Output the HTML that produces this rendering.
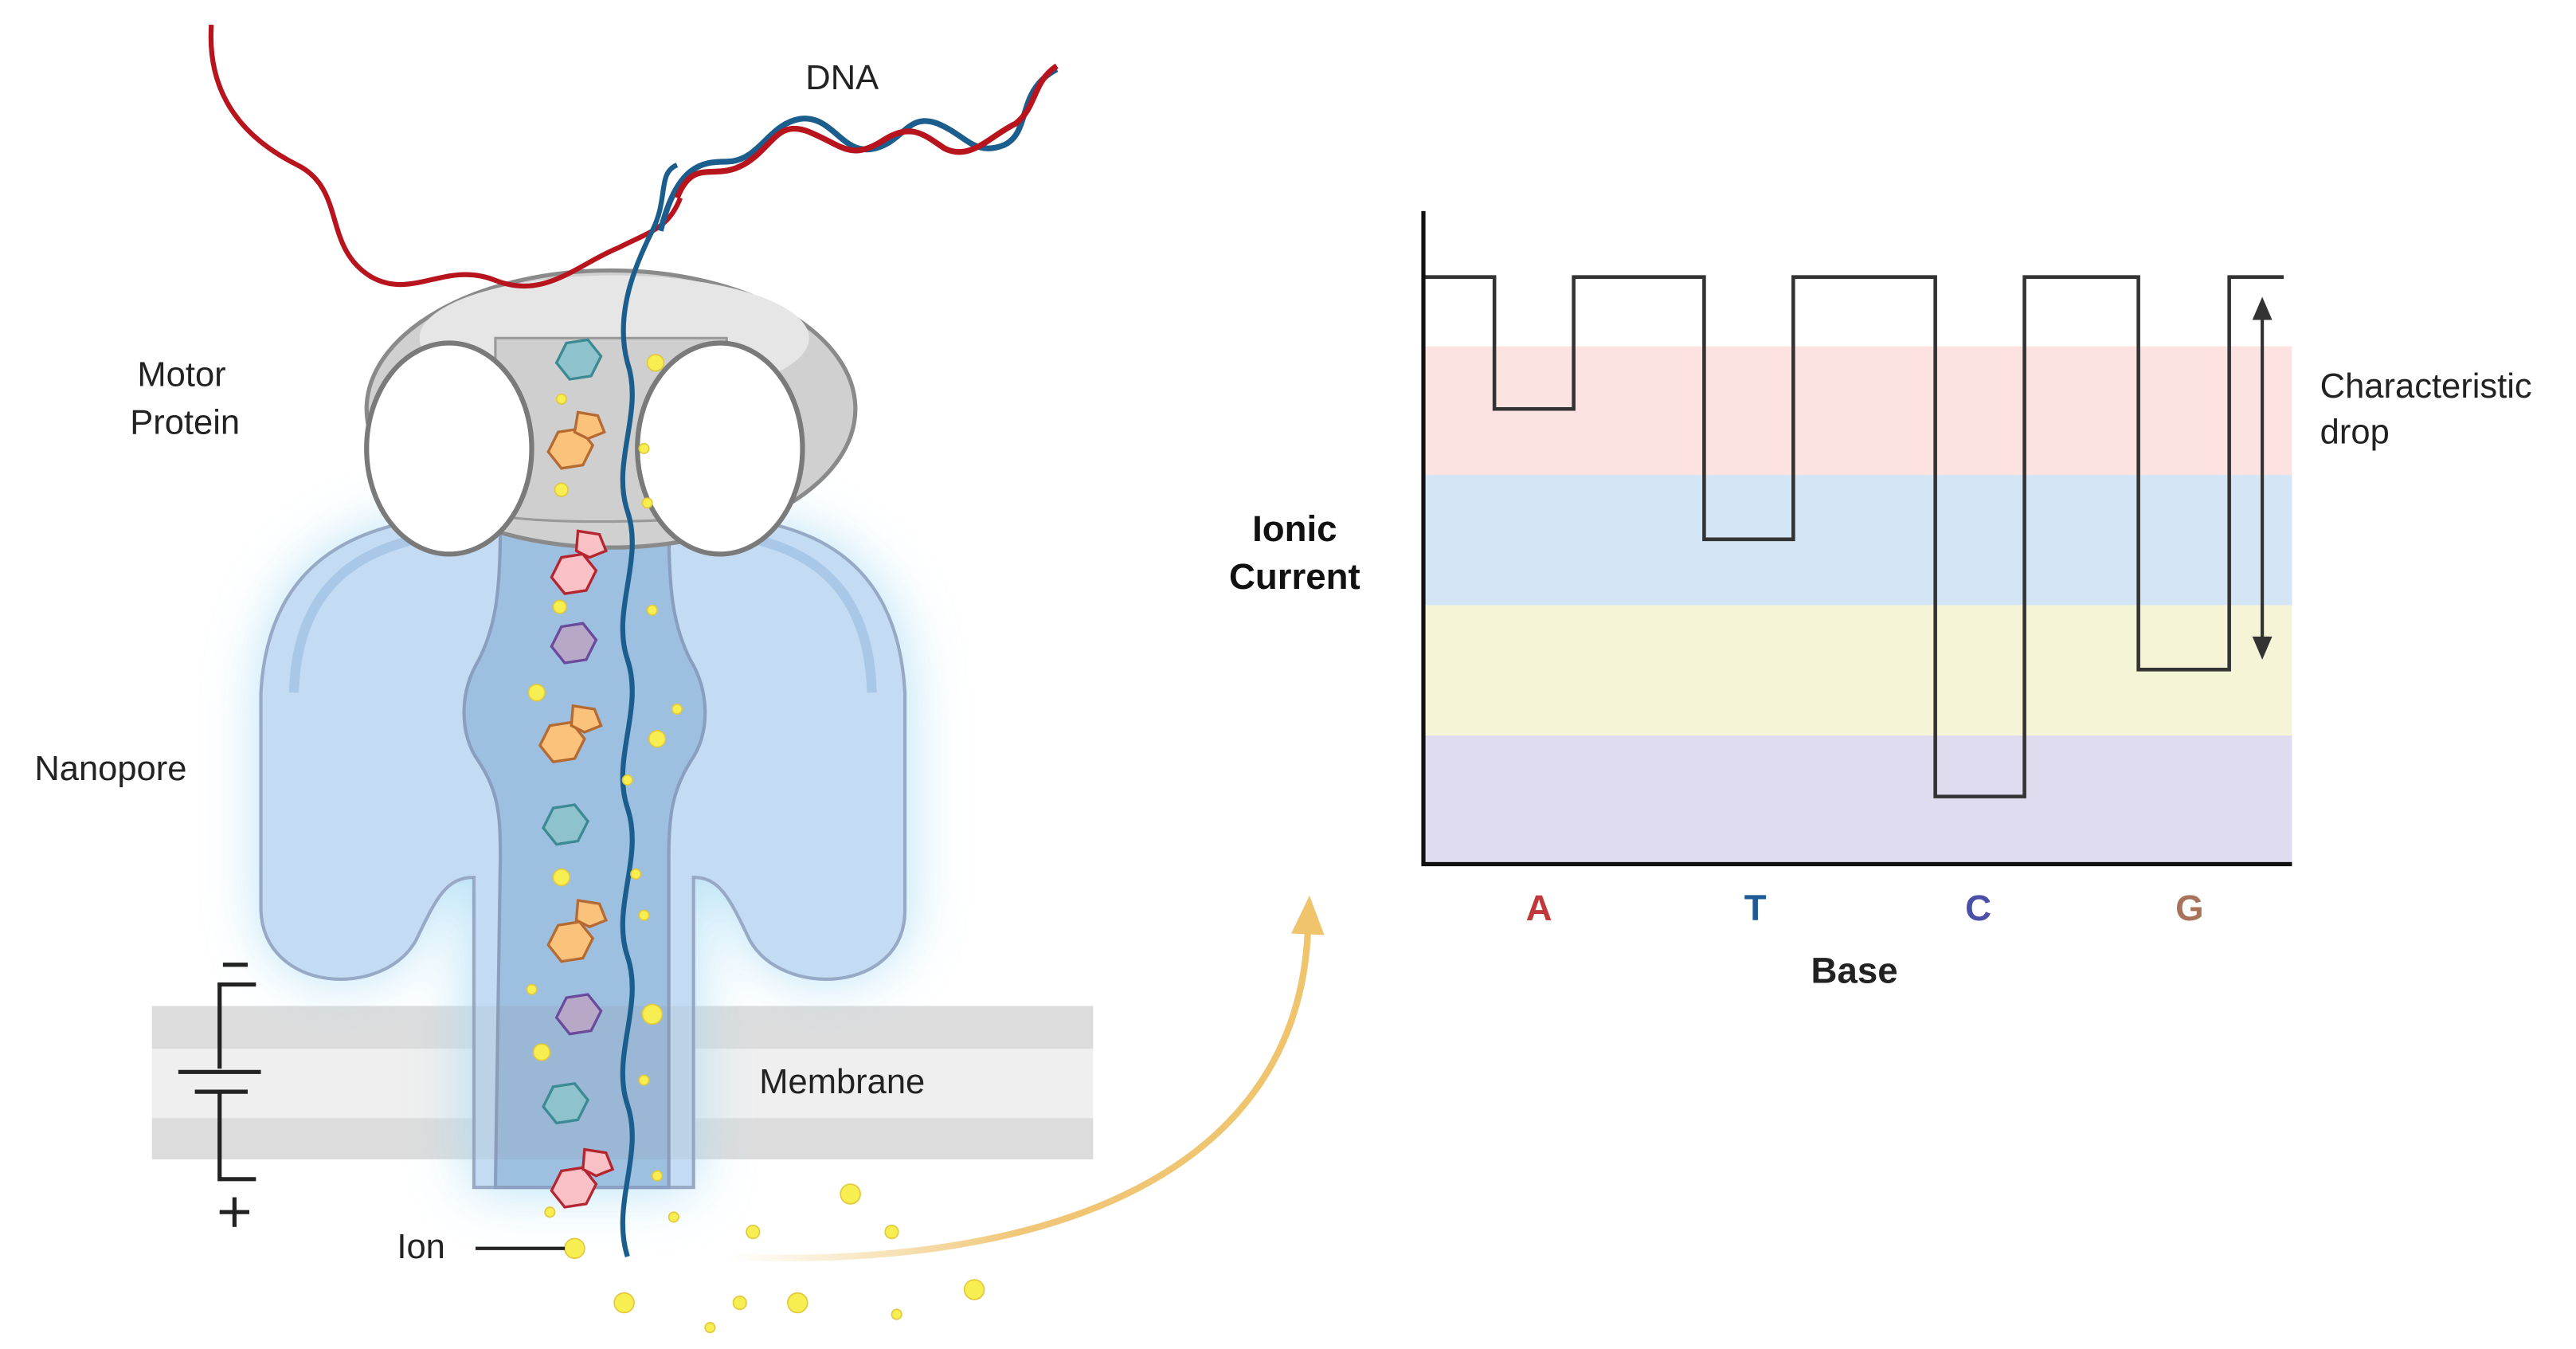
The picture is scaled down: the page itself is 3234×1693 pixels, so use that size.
<!DOCTYPE html>
<html><head><meta charset="utf-8"><style>
html,body{margin:0;padding:0;background:#fff;}
svg{display:block;}
text{font-family:"Liberation Sans",sans-serif;}
</style></head><body>
<svg width="3234" height="1693" viewBox="0 0 1560 818" preserveAspectRatio="none" xmlns="http://www.w3.org/2000/svg">
<defs>
<filter id="blur" x="-50%" y="-50%" width="200%" height="200%"><feGaussianBlur stdDeviation="18"/></filter>
<linearGradient id="ag" x1="0" y1="0" x2="1" y2="0">
<stop offset="0" stop-color="#f3d08a" stop-opacity="0"/>
<stop offset="0.5" stop-color="#f0c778"/>
<stop offset="1" stop-color="#efc46c"/>
</linearGradient>
</defs>
<!-- membrane -->
<rect x="92" y="610" width="570" height="26" fill="#dcdcdc"/>
<rect x="92" y="636" width="570" height="42" fill="#efefef"/>
<rect x="92" y="678" width="570" height="25" fill="#dcdcdc"/>
<!-- glow -->
<path d="M 300 315 C 230 315 165 330 160 420 L 160 550 C 160 600 230 605 250 570 C 262 545 268 530 285 530 L 285 720 L 420 720 L 420 530 C 437 530 443 545 455 570 C 475 605 548 600 548 550 L 548 420 C 543 330 480 315 410 315 Z" fill="#a8dcf5" filter="url(#blur)" opacity="0.9"/>
<!-- nanopore -->
<path d="M 300 312 C 230 312 163 330 158 420 L 158 552 C 160 602 232 606 252 570 C 264 545 270 532 287 532 L 287 720 L 420 720 L 420 532 C 436 532 442 545 454 570 C 474 606 548 602 548 552 L 548 420 C 543 330 480 312 410 312 Z" fill="#c3dcf3" stroke="#97a9c4" stroke-width="2"/>
<path d="M 178 420 C 180 345 230 325 290 322" fill="none" stroke="#a9c8e8" stroke-width="6"/>
<path d="M 528 420 C 526 345 478 325 420 322" fill="none" stroke="#a9c8e8" stroke-width="6"/>
<!-- channel -->
<path d="M 303 318 C 303 360 300 380 290 400 C 278 420 278 445 290 462 C 302 480 303 495 303 520 L 300 720 L 405 720 L 405 520 C 405 495 407 480 418 462 C 430 445 430 420 418 400 C 408 380 405 360 405 318 Z" fill="#9dbfe0" stroke="#8a9fbf" stroke-width="2"/>
<rect x="287" y="610" width="133" height="93" fill="#888" opacity="0.12"/>
<!-- motor protein -->
<ellipse cx="370" cy="248" rx="148" ry="84" fill="#d0d0d0" stroke="#8a8a8a" stroke-width="2.5"/>
<ellipse cx="372" cy="205" rx="118" ry="38" fill="#e6e6e6"/>
<path d="M 300 205 L 440 205 L 445 310 C 420 318 320 318 300 312 Z" fill="#cfcfcf" stroke="#999" stroke-width="1.5"/>
<ellipse cx="272" cy="272" rx="50" ry="64" fill="#fff" stroke="#7a7a7a" stroke-width="3"/>
<ellipse cx="436" cy="272" rx="50" ry="64" fill="#fff" stroke="#7a7a7a" stroke-width="3"/>
<!-- DNA -->
<path d="M 128 15 C 125 60 150 85 180 100 C 210 115 195 150 225 168 C 250 182 270 158 300 170 C 330 182 350 160 375 150 C 395 140 405 138 412 120" fill="none" stroke="#b8141e" stroke-width="3"/>
<path d="M 380 762 C 370 730 390 700 380 670 C 370 640 390 610 380 580 C 370 550 390 520 380 490 C 370 460 390 430 380 400 C 370 370 390 340 380 310 C 370 280 390 250 380 220 C 372 190 385 160 395 140 C 405 120 398 105 410 100" fill="none" stroke="#1b5e8e" stroke-width="3"/>
<path d="M 400 140 C 410 100 425 98 440 98 C 460 98 465 75 485 72 C 505 70 510 95 530 90 C 548 85 550 68 568 75 C 585 82 590 95 608 88 C 625 80 615 55 640 42" fill="none" stroke="#1b5e8e" stroke-width="3.5"/>
<path d="M 410 120 C 420 95 432 110 450 100 C 468 90 470 72 490 80 C 510 88 515 98 535 85 C 552 74 560 82 572 90 C 588 98 600 82 615 75 C 628 65 625 50 640 40" fill="none" stroke="#b8141e" stroke-width="3.5"/>
<!-- bases -->
<g stroke-width="1.6">
<g fill="#8ec2cc" stroke="#3c8a93"><polygon points="343,208 356,206 364,216 358,228 345,230 337,220"/><polygon points="335,490 348,488 356,498 350,510 337,512 329,502"/><polygon points="335,659 348,657 356,667 350,679 337,681 329,671"/></g>
<g fill="#b8a8c8" stroke="#6a4a9a"><polygon points="340,380 353,378 361,388 355,400 342,402 334,392"/><polygon points="343,605 356,603 364,613 358,625 345,627 337,617"/></g>
<g fill="#fbc27c" stroke="#b56a32"><polygon points="338,262 351,260 359,270 353,282 340,284 332,274"/><polygon points="350,250 362,252 366,262 356,266 348,262"/><polygon points="333,440 346,438 354,448 348,460 335,462 327,452"/><polygon points="347,428 360,430 364,440 354,444 346,440"/><polygon points="338,561 351,559 359,569 353,581 340,583 332,573"/><polygon points="350,546 363,548 367,558 357,562 349,558"/></g>
<g fill="#f9c0c6" stroke="#b5252f"><polygon points="340,338 353,336 361,346 355,358 342,360 334,350"/><polygon points="350,322 363,324 367,334 357,338 349,334"/><polygon points="340,710 353,708 361,718 355,730 342,732 334,722"/><polygon points="354,697 367,699 371,709 361,713 353,709"/></g>
</g>
<!-- ions -->
<g fill="#f7ee52" stroke="#e2c83a" stroke-width="0.8">
<circle cx="397" cy="220" r="5"/><circle cx="340" cy="242" r="3"/><circle cx="390" cy="272" r="3"/><circle cx="340" cy="297" r="4"/><circle cx="392" cy="305" r="3"/><circle cx="339" cy="368" r="4"/><circle cx="395" cy="370" r="3"/><circle cx="325" cy="420" r="5"/><circle cx="410" cy="430" r="3"/><circle cx="398" cy="448" r="5"/><circle cx="380" cy="473" r="3"/><circle cx="340" cy="532" r="5"/><circle cx="385" cy="530" r="3"/><circle cx="390" cy="555" r="3"/><circle cx="322" cy="600" r="3"/><circle cx="395" cy="615" r="6"/><circle cx="328" cy="638" r="5"/><circle cx="390" cy="655" r="3"/><circle cx="398" cy="713" r="3"/><circle cx="333" cy="735" r="3"/><circle cx="408" cy="738" r="3"/><circle cx="348" cy="757" r="6"/><circle cx="378" cy="790" r="6"/><circle cx="430" cy="805" r="3"/><circle cx="448" cy="790" r="4"/><circle cx="483" cy="790" r="6"/><circle cx="456" cy="747" r="4"/><circle cx="515" cy="724" r="6"/><circle cx="540" cy="747" r="4"/><circle cx="543" cy="797" r="3"/><circle cx="590" cy="782" r="6"/>
</g>
<!-- arrow -->
<path d="M 440 762 C 620 770 785 720 792 565" fill="none" stroke="url(#ag)" stroke-width="4"/>
<polygon points="782,566 793,543 802,567" fill="#efc46c"/>
<!-- battery -->
<g stroke="#222" stroke-width="2.5" fill="none">
<line x1="135" y1="585" x2="150" y2="585"/>
<polyline points="155,597 133,597 133,648"/>
<line x1="108" y1="650" x2="158" y2="650"/>
<line x1="118" y1="662" x2="150" y2="662"/>
<polyline points="133,662 133,715 155,715"/>
<line x1="133" y1="735" x2="151" y2="735"/><line x1="142" y1="726" x2="142" y2="744"/>
<line x1="288" y1="757" x2="342" y2="757" stroke-width="2"/>
</g>
<!-- labels -->
<g font-size="21" fill="#222">
<text x="510" y="54" text-anchor="middle">DNA</text>
<text x="110" y="234" text-anchor="middle">Motor</text>
<text x="112" y="263" text-anchor="middle">Protein</text>
<text x="67" y="473" text-anchor="middle">Nanopore</text>
<text x="510" y="663" text-anchor="middle">Membrane</text>
<text x="255" y="763" text-anchor="middle">Ion</text>
<text x="1405" y="241">Characteristic</text>
<text x="1405" y="269">drop</text>
</g>
<!-- chart -->
<rect x="862" y="210" width="526" height="78" fill="#fde2e2"/>
<rect x="862" y="288" width="526" height="79" fill="#d4e6f6"/>
<rect x="862" y="367" width="526" height="79" fill="#f6f4d6"/>
<rect x="862" y="446" width="526" height="78" fill="#dedcee"/>
<polyline points="862,168 905,168 905,248 953,248 953,168 1032,168 1032,327 1086,327 1086,168 1172,168 1172,483 1226,483 1226,168 1295,168 1295,406 1350,406 1350,168 1383,168" fill="none" stroke="#333" stroke-width="2.2"/>
<polyline points="862,128 862,524 1388,524" fill="none" stroke="#111" stroke-width="2.5"/>
<line x1="1370" y1="192" x2="1370" y2="388" stroke="#333" stroke-width="2"/>
<polygon points="1364,194 1370,180 1376,194" fill="#333"/>
<polygon points="1364,386 1370,400 1376,386" fill="#333"/>
<g font-size="22" font-weight="bold" text-anchor="middle">
<text x="784" y="328" fill="#111">Ionic</text>
<text x="784" y="357" fill="#111">Current</text>
<text x="1123" y="596" fill="#222">Base</text>
<text x="932" y="558" fill="#c0383a">A</text>
<text x="1063" y="558" fill="#1e5a96">T</text>
<text x="1198" y="558" fill="#4b4fa8">C</text>
<text x="1326" y="558" fill="#a8735a">G</text>
</g>
</svg>
</body></html>
